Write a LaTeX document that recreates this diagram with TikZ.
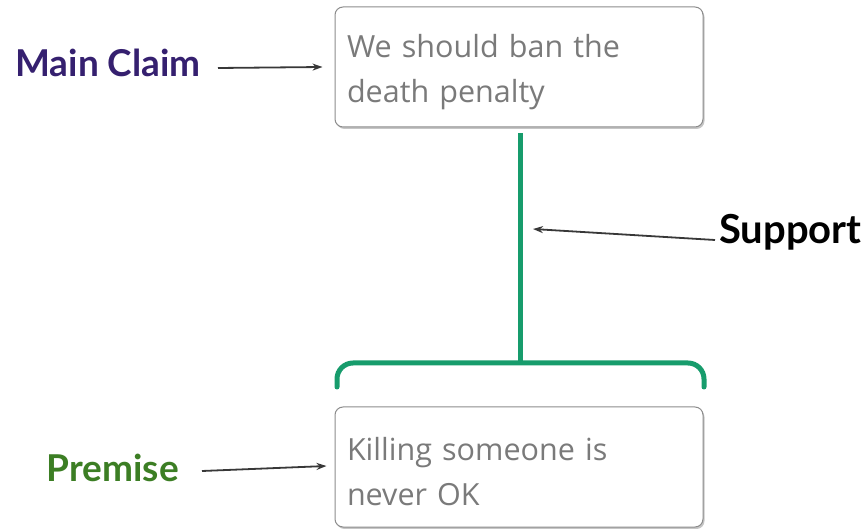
\documentclass[tikz,border=0pt]{standalone}
\usepackage{fontspec}
\setmainfont{Open Sans}
\newfontfamily\labelfont{Lato}
\usetikzlibrary{positioning, shadows, calc, arrows.meta}
\definecolor{supportgreen}{HTML}{179C6C}
\definecolor{claimpurple}{HTML}{35206F}
\definecolor{premisegreen}{HTML}{3C7E24}
\definecolor{boxtext}{HTML}{7A7A7A}
\definecolor{boxline}{HTML}{8C8C8C}

\begin{document}
\begin{tikzpicture}[x=1pt, y=-1pt,
    argbox/.style={draw=boxline, line width=1pt, rounded corners=8pt, fill=white,
      drop shadow={shadow xshift=1.5pt, shadow yshift=-2pt, opacity=0.45},
      minimum width=368pt, minimum height=120pt, text width=344pt, align=left,
      text=boxtext, font=\fontsize{30.5}{45}\selectfont},
    tag/.style={font=\labelfont\bfseries\fontsize{37}{42}\selectfont, inner sep=0pt},
    pointer/.style={-{Stealth[length=10pt, width=7pt]}, draw=black!78, line width=1.8pt}]
  \useasboundingbox (0,0) rectangle (868,529);
    \node[argbox] (claim)   at (519,67)  {\rule{0pt}{33pt}We should ban the\\death penalty};
    \node[argbox] (premise) at (519,467) {\rule{0pt}{33pt}Killing someone is\\never OK};
    % support connector
    \coordinate (join) at (520,363);
    \draw[supportgreen, line width=5pt, shorten <=6pt] (claim.south -| join) -- (join);
    \draw[supportgreen, line width=5pt, line cap=round, rounded corners=16pt]
      (337,387) |- (join) -| (704,387);
    \coordinate (hit) at (533,229);
    % labels
    \node[tag, text=claimpurple, anchor=east] (mainlbl) at (201,63) {Main Claim};
    \node[tag, anchor=west, font=\labelfont\bfseries\fontsize{40}{44}\selectfont] (supportlbl) at (719,232) {Support};
    \node[tag, text=premisegreen, anchor=east] (premlbl) at (179,468) {Premise};
    \draw[pointer] ($(mainlbl.east)+(17,5)$) -- ($(claim.west)+(-12,0)$);
    \draw[pointer] ($(supportlbl.west)+(-4,8)$) -- (hit);
    \draw[pointer] ($(premlbl.east)+(23,3)$) -- ($(premise.west)+(-8,-1)$);
\end{tikzpicture}
\end{document}
